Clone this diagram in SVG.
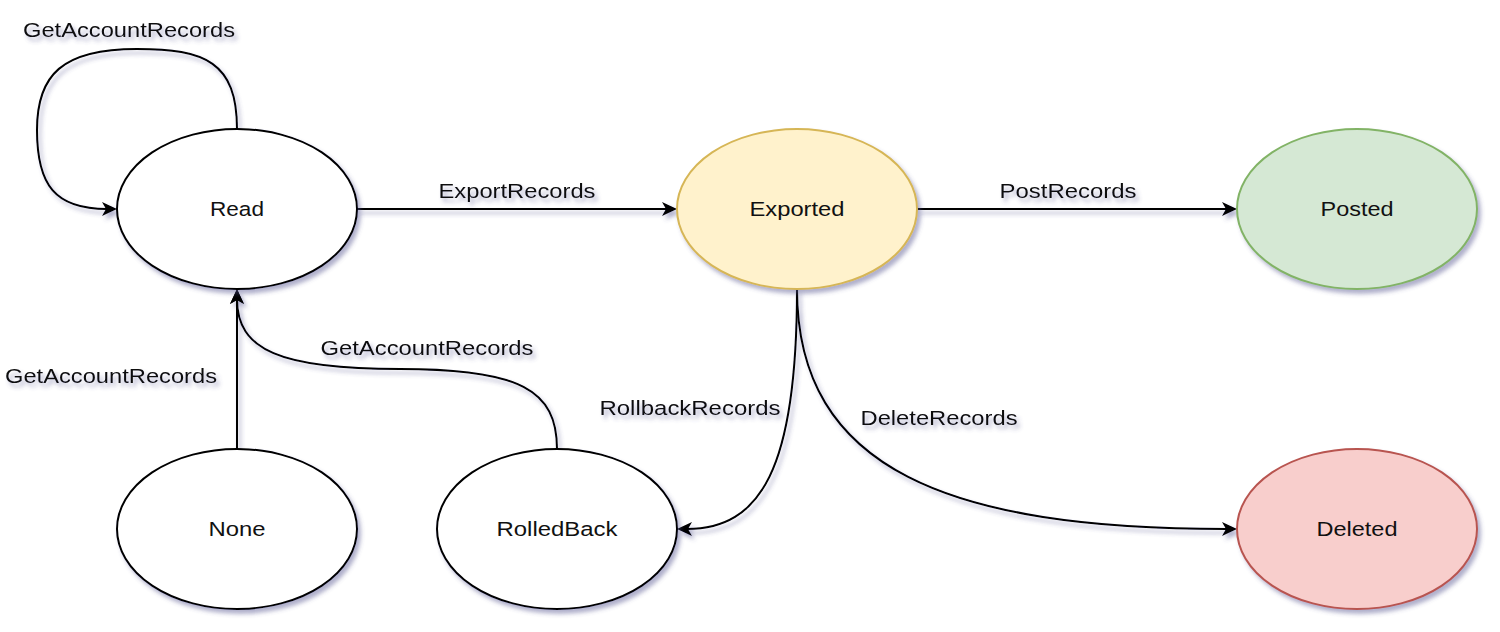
<svg xmlns="http://www.w3.org/2000/svg" width="1500" height="632" viewBox="0 0 1500 632">
<style>
.node ellipse{stroke-width:2}
.plain{fill:#ffffff;stroke:#000000}
.yellow{fill:#fff2cc;stroke:#d6b656}
.green{fill:#d5e8d4;stroke:#82b366}
.red{fill:#f8cecc;stroke:#b85450}
text{font-family:"Liberation Sans",Arial,Helvetica,sans-serif;font-size:20.5px;fill:#111111;text-anchor:middle}
.edge{fill:none;stroke:#000000;stroke-width:2}
</style>
<defs>
<filter id="sh" x="-20%" y="-20%" width="140%" height="150%">
<feDropShadow dx="3" dy="4" stdDeviation="2.2" flood-color="#50508c" flood-opacity="0.45"/>
</filter>
<marker id="arr" markerUnits="userSpaceOnUse" markerWidth="18" markerHeight="16" refX="5" refY="7" orient="auto">
<path d="M0,0 L15,7 L0,14 L4,7 z" fill="#000000"/>
</marker>
</defs>

<g id="connectors" filter="url(#sh)">
<g id="e-self">
<path class="edge" d="M237,129 C237,62 205,49 137,49 C62,49 37,75 37,130 C37,185 55,209 107,209" marker-end="url(#arr)"/>
<text x="129" y="37" textLength="212" lengthAdjust="spacingAndGlyphs">GetAccountRecords</text>
</g>
<g id="e-read-exported">
<path class="edge" d="M357,209 L667,209" marker-end="url(#arr)"/>
<text x="517" y="198" textLength="157" lengthAdjust="spacingAndGlyphs">ExportRecords</text>
</g>
<g id="e-exported-posted">
<path class="edge" d="M917,209 L1227,209" marker-end="url(#arr)"/>
<text x="1068" y="198" textLength="137" lengthAdjust="spacingAndGlyphs">PostRecords</text>
</g>
<g id="e-none-read">
<path class="edge" d="M237,449 L237,299" marker-end="url(#arr)"/>
<text x="111" y="383" textLength="212" lengthAdjust="spacingAndGlyphs">GetAccountRecords</text>
</g>
<g id="e-rolledback-read">
<path class="edge" d="M557,449 C557,390 520,369 400,369 C280,369 237,350 237,299" marker-end="url(#arr)"/>
<text x="427" y="355" textLength="213" lengthAdjust="spacingAndGlyphs">GetAccountRecords</text>
</g>
<g id="e-exported-rolledback">
<path class="edge" d="M797,289 C797,470 760,529 687,529" marker-end="url(#arr)"/>
<text x="690" y="415" textLength="181" lengthAdjust="spacingAndGlyphs">RollbackRecords</text>
</g>
<g id="e-exported-deleted">
<path class="edge" d="M797,289 C797,470 950,529 1227,529" marker-end="url(#arr)"/>
<text x="939" y="425" textLength="157" lengthAdjust="spacingAndGlyphs">DeleteRecords</text>
</g>
</g>

<g id="node-read" class="node">
<ellipse class="plain" cx="237" cy="209" rx="120" ry="80" filter="url(#sh)"/>
<text x="237" y="216" textLength="54" lengthAdjust="spacingAndGlyphs">Read</text>
</g>
<g id="node-exported" class="node">
<ellipse class="yellow" cx="797" cy="209" rx="120" ry="80" filter="url(#sh)"/>
<text x="797" y="216" textLength="95" lengthAdjust="spacingAndGlyphs">Exported</text>
</g>
<g id="node-posted" class="node">
<ellipse class="green" cx="1357" cy="209" rx="120" ry="80" filter="url(#sh)"/>
<text x="1357" y="216" textLength="73" lengthAdjust="spacingAndGlyphs">Posted</text>
</g>
<g id="node-none" class="node">
<ellipse class="plain" cx="237" cy="529" rx="120" ry="80" filter="url(#sh)"/>
<text x="237" y="536" textLength="57" lengthAdjust="spacingAndGlyphs">None</text>
</g>
<g id="node-rolledback" class="node">
<ellipse class="plain" cx="557" cy="529" rx="120" ry="80" filter="url(#sh)"/>
<text x="557" y="536" textLength="121" lengthAdjust="spacingAndGlyphs">RolledBack</text>
</g>
<g id="node-deleted" class="node">
<ellipse class="red" cx="1357" cy="529" rx="120" ry="80" filter="url(#sh)"/>
<text x="1357" y="536" textLength="81" lengthAdjust="spacingAndGlyphs">Deleted</text>
</g>
</svg>
